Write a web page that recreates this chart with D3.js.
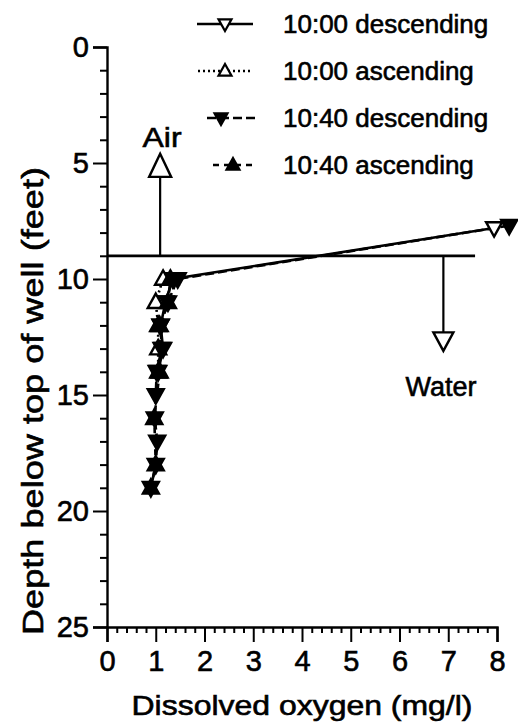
<!DOCTYPE html>
<html><head><meta charset="utf-8">
<script src="https://cdn.jsdelivr.net/npm/d3@7"></script>
<style>html,body{margin:0;padding:0;background:#fff;}svg{display:block;font-family:"Liberation Sans",Arial,sans-serif;}
text{fill:#000;stroke:#000;stroke-width:0.6px;}</style>
</head><body>
<svg id="c" width="518" height="728"></svg>
<script>
// ---- data ----
const seriesNames = ["10:00 descending","10:00 ascending","10:40 descending","10:40 ascending"];
const desc1000 = [[7.94,7.8],[1.35,10],[1.2,11],[1.1,12],[1.15,13],[1.05,14]];
const asc1000  = [[1.05,14],[1.05,13],[1.05,12],[1.0,11],[1.15,10]];
const desc1040 = [[8.25,7.7],[1.45,10],[1.25,11],[1.1,12],[1.12,13],[1.02,14],[1.0,15],[0.98,16],[1.03,17],[1.0,18],[0.9,19]];
const asc1040  = [[0.9,19],[1.0,18],[0.97,16],[1.08,14],[1.08,12],[1.25,11],[1.3,10]];
const xTicks = [0,1,2,3,4,5,6,7,8];
const yTicks = [0,5,10,15,20,25];
const waterLevel = 9;

// ---- layout ----
const svg = d3.select("#c");
const x = d3.scaleLinear().domain([0,8]).range([107,497]);
const y = d3.scaleLinear().domain([0,25]).range([47,627]);

// axes
const yAxis = d3.axisLeft(y).tickValues(yTicks).tickSize(14).tickPadding(4).tickFormat(d3.format("d"));
const yMinor = d3.axisLeft(y).tickValues(d3.range(0,26,1).filter(v=>v%5)).tickSize(7).tickFormat("");
const xAxis = d3.axisBottom(x).tickValues(xTicks).tickSize(15).tickPadding(8).tickFormat(d3.format("d"));
const xMinor = d3.axisBottom(x).tickValues(d3.range(0,8.01,0.2).filter(v=>Math.abs(v-Math.round(v))>0.01)).tickSize(6).tickFormat("");

function styleAxis(g){
  g.select(".domain").attr("stroke","#000").attr("stroke-width",2.4);
  g.selectAll(".tick line").attr("stroke","#000").attr("stroke-width",2);
  g.selectAll("text").attr("fill","#000").attr("font-size",29).attr("font-family","Liberation Sans, Arial, sans-serif");
}
svg.append("g").attr("transform",`translate(${x(0)},0)`).call(yAxis).call(styleAxis);
svg.append("g").attr("transform",`translate(${x(0)},0)`).call(yMinor).call(styleAxis).select(".domain").remove();
svg.append("g").attr("transform",`translate(0,${y(25)})`).call(xAxis).call(styleAxis);
svg.append("g").attr("transform",`translate(0,${y(25)})`).call(xMinor).call(styleAxis).select(".domain").remove();

// axis labels
svg.append("text").attr("x",(x(0)+x(8))/2).attr("y",715).attr("text-anchor","middle")
  .attr("font-size",28).attr("textLength",341).attr("lengthAdjust","spacingAndGlyphs").text("Dissolved oxygen (mg/l)");
svg.append("text").attr("transform",`translate(43,401) rotate(-90)`).attr("text-anchor","middle")
  .attr("font-size",30).attr("textLength",468).attr("lengthAdjust","spacingAndGlyphs").text("Depth below top of well (feet)");

// water level line and arrows
svg.append("line").attr("x1",x(0)).attr("x2",x(7.55)).attr("y1",y(waterLevel)).attr("y2",y(waterLevel))
  .attr("stroke","#000").attr("stroke-width",2.8);
svg.append("line").attr("x1",x(1.09)).attr("x2",x(1.09)).attr("y1",y(waterLevel)).attr("y2",y(5.6))
  .attr("stroke","#000").attr("stroke-width",2.2);
svg.append("path").attr("d",`M${x(1.09)},${y(4.6)} L${x(1.09)+11},${y(5.6)} L${x(1.09)-11},${y(5.6)} Z`)
  .attr("fill","#fff").attr("stroke","#000").attr("stroke-width",2.4);
svg.append("text").attr("x",x(1.13)).attr("y",147).attr("text-anchor","middle").attr("font-size",28)
  .attr("textLength",39).attr("lengthAdjust","spacingAndGlyphs").text("Air");
svg.append("line").attr("x1",x(6.9)).attr("x2",x(6.9)).attr("y1",y(waterLevel)).attr("y2",y(12.3))
  .attr("stroke","#000").attr("stroke-width",2.2);
svg.append("path").attr("d",`M${x(6.9)},${y(13.1)} L${x(6.9)+10},${y(12.3)} L${x(6.9)-10},${y(12.3)} Z`)
  .attr("fill","#fff").attr("stroke","#000").attr("stroke-width",2.4);
svg.append("text").attr("x",x(6.85)).attr("y",396).attr("text-anchor","middle").attr("font-size",27).text("Water");

// markers
function tri(up, w){
  const h = w*0.9;
  return up ? `M0,${-h*0.6} L${w/2},${h*0.4} L${-w/2},${h*0.4} Z`
            : `M0,${h*0.6} L${w/2},${-h*0.4} L${-w/2},${-h*0.4} Z`;
}
const series = [
  {name:seriesNames[0], data:desc1000, dash:null, up:false, fill:"#fff"},
  {name:seriesNames[1], data:asc1000, dash:"2,3", up:true, fill:"#fff"},
  {name:seriesNames[2], data:desc1040, dash:"9,4", up:false, fill:"#000"},
  {name:seriesNames[3], data:asc1040, dash:"6,5", up:true, fill:"#000"}
];
const line = d3.line().x(d=>x(d[0])).y(d=>y(d[1]));
series.forEach(s=>{
  svg.append("path").attr("d",line(s.data)).attr("fill","none").attr("stroke","#000")
    .attr("stroke-width",2.6).attr("stroke-dasharray",s.dash);
});
series.forEach(s=>{
  svg.selectAll(null).data(s.data).enter().append("path")
    .attr("transform",d=>`translate(${x(d[0])},${y(d[1])})`)
    .attr("d",tri(s.up,16)).attr("fill",s.fill).attr("stroke","#000").attr("stroke-width",2.4);
});

// legend
const legY = [24,71,118,165];
const legLine = [[197,253],[198,252],[207,255],[213,255]];
const legMark = [225,225,221,233];
series.forEach((s,i)=>{
  const g = svg.append("g");
  g.append("line").attr("x1",legLine[i][0]).attr("x2",legLine[i][1]).attr("y1",legY[i]).attr("y2",legY[i])
    .attr("stroke","#000").attr("stroke-width",2.6).attr("stroke-dasharray",s.dash);
  g.append("path").attr("transform",`translate(${legMark[i]},${legY[i]})`).attr("d",tri(s.up,13))
    .attr("fill",s.fill).attr("stroke","#000").attr("stroke-width",2.2);
  g.append("text").attr("x",283).attr("y",legY[i]+9).attr("font-size",26).text(s.name);
});
</script>
</body></html>
